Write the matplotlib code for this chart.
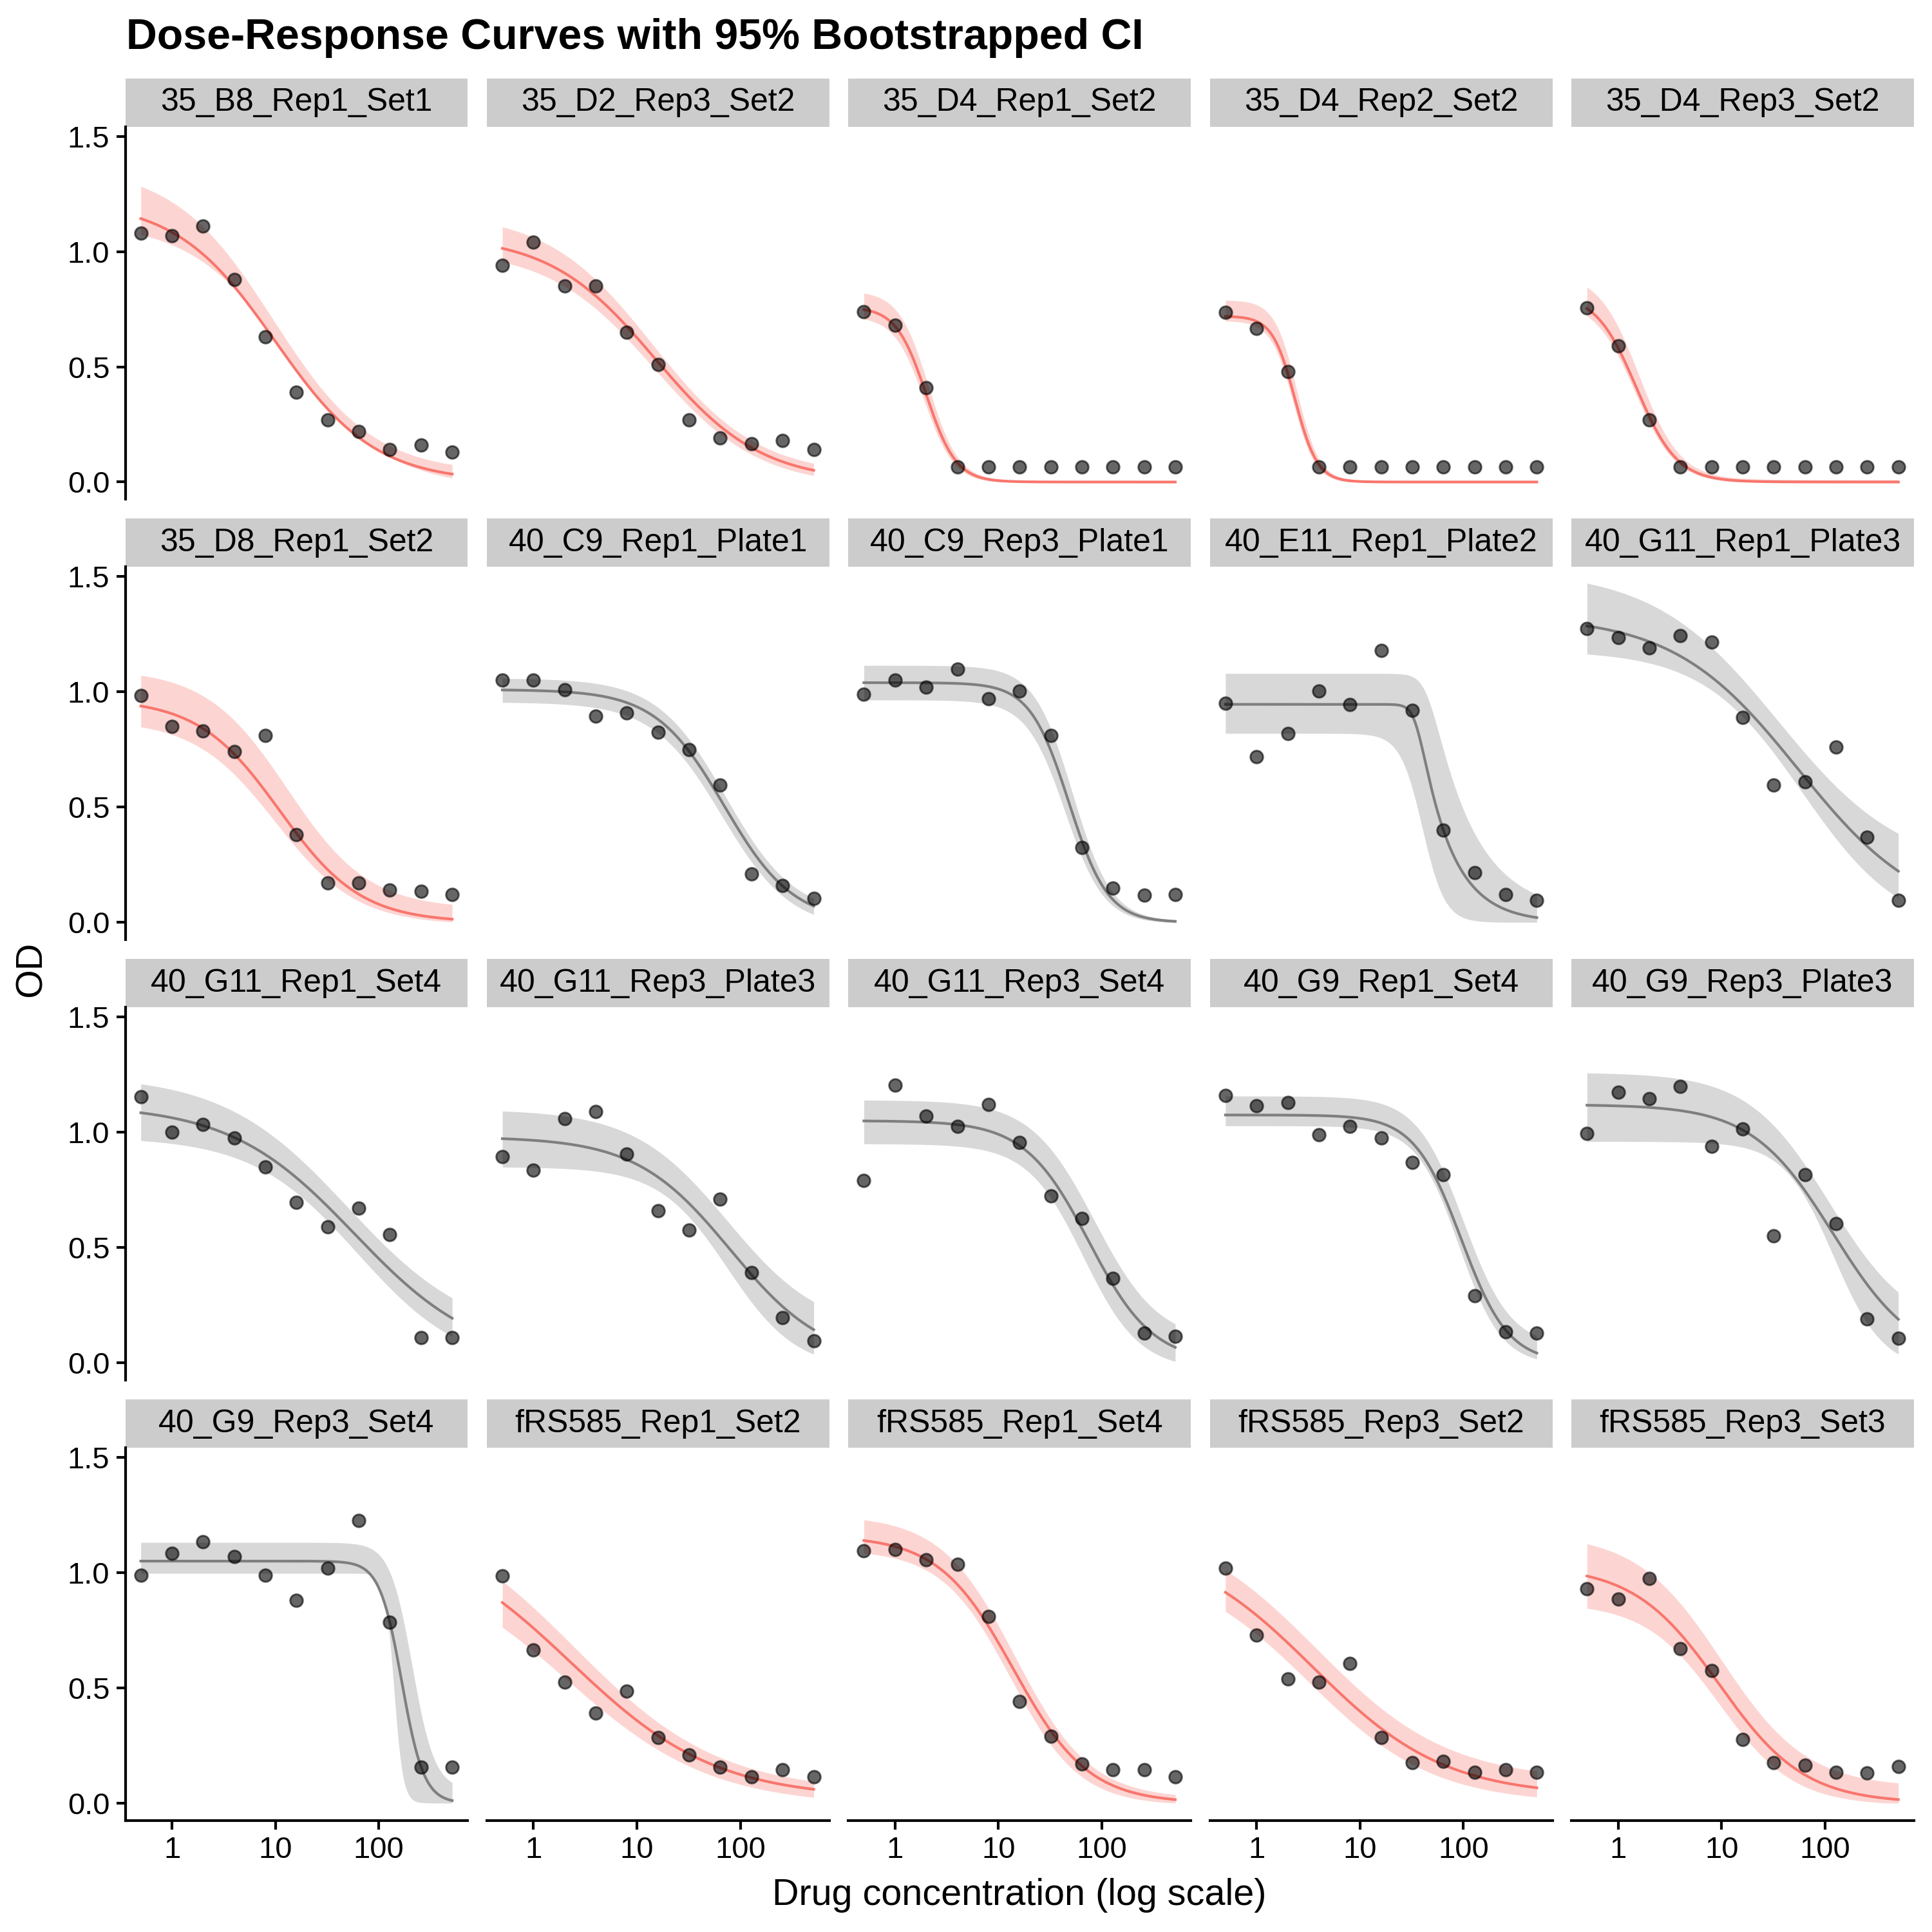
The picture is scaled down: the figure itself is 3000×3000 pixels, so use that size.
import numpy as np
import matplotlib
matplotlib.use("Agg")
import matplotlib.pyplot as plt
from matplotlib.patches import Rectangle

plt.rcParams['font.family'] = ['Liberation Sans', 'DejaVu Sans']

# drug doses used on every plate
doses = [0.5, 1, 2, 4, 8, 16, 32, 64, 128, 256, 512]

panel_names = [
    "35_B8_Rep1_Set1", "35_D2_Rep3_Set2", "35_D4_Rep1_Set2", "35_D4_Rep2_Set2", "35_D4_Rep3_Set2",
    "35_D8_Rep1_Set2", "40_C9_Rep1_Plate1", "40_C9_Rep3_Plate1", "40_E11_Rep1_Plate2", "40_G11_Rep1_Plate3",
    "40_G11_Rep1_Set4", "40_G11_Rep3_Plate3", "40_G11_Rep3_Set4", "40_G9_Rep1_Set4", "40_G9_Rep3_Plate3",
    "40_G9_Rep3_Set4", "fRS585_Rep1_Set2", "fRS585_Rep1_Set4", "fRS585_Rep3_Set2", "fRS585_Rep3_Set3",
]

# True -> red group, False -> grey group
highlight = [True, True, True, True, True,
             True, False, False, False, False,
             False, False, False, False, False,
             False, True, True, True, True]

od_values = [
    [1.08, 1.07, 1.11, 0.88, 0.63, 0.39, 0.27, 0.22, 0.14, 0.16, 0.13],
    [0.94, 1.04, 0.85, 0.85, 0.65, 0.51, 0.27, 0.19, 0.165, 0.18, 0.14],
    [0.74, 0.68, 0.41, 0.065, 0.065, 0.065, 0.065, 0.065, 0.065, 0.065, 0.065],
    [0.735, 0.665, 0.48, 0.065, 0.065, 0.065, 0.065, 0.065, 0.065, 0.065, 0.065],
    [0.755, 0.59, 0.27, 0.065, 0.065, 0.065, 0.065, 0.065, 0.065, 0.065, 0.065],
    [0.985, 0.85, 0.83, 0.74, 0.81, 0.38, 0.17, 0.17, 0.14, 0.135, 0.12],
    [1.05, 1.05, 1.01, 0.895, 0.91, 0.825, 0.75, 0.595, 0.21, 0.16, 0.105],
    [0.99, 1.05, 1.02, 1.10, 0.97, 1.005, 0.81, 0.325, 0.15, 0.117, 0.12],
    [0.95, 0.72, 0.82, 1.005, 0.945, 1.18, 0.92, 0.40, 0.215, 0.12, 0.095],
    [1.275, 1.235, 1.19, 1.245, 1.215, 0.89, 0.595, 0.61, 0.76, 0.37, 0.095],
    [1.155, 1.0, 1.035, 0.975, 0.85, 0.695, 0.59, 0.67, 0.555, 0.11, 0.11],
    [0.895, 0.835, 1.06, 1.09, 0.905, 0.66, 0.575, 0.71, 0.39, 0.195, 0.095],
    [0.79, 1.205, 1.07, 1.025, 1.12, 0.955, 0.725, 0.625, 0.365, 0.13, 0.115],
    [1.16, 1.115, 1.13, 0.99, 1.025, 0.975, 0.87, 0.815, 0.29, 0.135, 0.13],
    [0.995, 1.175, 1.145, 1.20, 0.94, 1.015, 0.55, 0.815, 0.605, 0.19, 0.105],
    [0.99, 1.085, 1.135, 1.07, 0.99, 0.88, 1.02, 1.225, 0.785, 0.155, 0.155],
    [0.985, 0.665, 0.525, 0.39, 0.485, 0.285, 0.21, 0.155, 0.115, 0.145, 0.115],
    [1.095, 1.10, 1.055, 1.035, 0.81, 0.44, 0.29, 0.17, 0.145, 0.145, 0.115],
    [1.02, 0.73, 0.54, 0.525, 0.605, 0.285, 0.175, 0.18, 0.135, 0.145, 0.135],
    [0.93, 0.885, 0.975, 0.67, 0.575, 0.275, 0.175, 0.165, 0.135, 0.13, 0.16],
]

# log-logistic fits: (top, bottom, ec50, hill, asymmetry)
fit_params = [
    (1.22, 0, 10, 0.9, 1), (1.07, 0, 15, 0.85, 1), (0.76, 0, 2.0, 3.0, 1),
    (0.72, 0, 2.35, 4.0, 1), (0.82, 0, 1.5, 2.2, 1), (0.97, 0, 11, 1.1, 1),
    (1.01, 0, 70, 1.3, 1), (1.04, 0, 48, 2.3, 1), (0.946, 0, 35, 9.5, 0.15),
    (1.33, 0, 55, 0.72, 1), (1.12, 0, 58, 0.72, 1), (0.98, 0, 80, 0.95, 1),
    (1.05, 0, 75, 1.4, 1), (1.075, 0, 95, 1.9, 1), (1.12, 0, 120, 1.1, 1),
    (1.05, 0, 167, 4.06, 1), (1.2, 0.02, 2.3, 0.62, 1), (1.16, 0, 14, 1.2, 1),
    (1.15, 0.03, 3.5, 0.68, 1), (1.03, 0, 9.5, 1.05, 1),
]

# lower / upper edges of the bootstrapped 95% band, same model form
ci_low_params = [
    (1.13, -0.025, 13.5, 0.9, 1), (1.01, -0.02, 14.5, 0.85, 1), (0.72, -0.005, 1.9, 3.0, 1),
    (0.70, -0.005, 2.25, 4.0, 1), (0.79, -0.005, 1.45, 2.2, 1), (0.88, -0.01, 10, 1.1, 1),
    (0.956, -0.03, 66, 1.3, 1), (0.965, -0.005, 44, 2.3, 1), (0.82, 0, 40, 4, 1),
    (1.18, -0.05, 60, 0.9, 1), (0.98, -0.03, 62, 0.85, 1), (0.85, -0.03, 75, 1.3, 1),
    (0.95, -0.03, 66, 1.6, 1), (1.028, -0.01, 90, 2.1, 1), (0.96, -0.03, 120, 1.8, 1),
    (0.997, 0, 140, 10, 1), (1.08, -0.01, 2.1, 0.62, 1), (1.10, -0.01, 13, 1.3, 1),
    (1.05, 0.0, 3.2, 0.72, 1), (0.87, -0.01, 9.5, 1.2, 1),
]
ci_high_params = [
    (1.37, 0.04, 9.5, 0.9, 1), (1.17, 0.03, 14, 0.85, 1), (0.83, 0.005, 2.1, 3.0, 1),
    (0.79, 0.005, 2.45, 4.0, 1), (0.91, 0.01, 1.6, 2.2, 1), (1.10, 0.06, 13, 1.1, 1),
    (1.06, 0.03, 72, 1.3, 1), (1.115, 0.005, 52, 2.3, 1), (1.08, 0.04, 45, 7, 0.15),
    (1.53, 0.22, 35, 0.72, 1), (1.25, 0.10, 50, 0.72, 1), (1.10, 0.13, 75, 0.95, 1),
    (1.14, 0.09, 85, 1.4, 1), (1.157, 0.07, 100, 1.9, 1), (1.26, 0.13, 110, 1.1, 1),
    (1.131, 0.06, 210, 4.0, 1), (1.3, 0.05, 2.5, 0.62, 1), (1.25, 0.02, 14.5, 1.2, 1),
    (1.24, 0.10, 3.8, 0.68, 1), (1.17, 0.07, 10, 1.05, 1),
]

y_ticks = [0.0, 0.5, 1.0, 1.5]
x_ticks = [1, 10, 100]

RED = "#F8766D"
GREY = "#7F7F7F"


def loglogistic(x, p):
    top, bottom, ec50, hill, asym = p
    return bottom + (top - bottom) / (1 + (x / ec50) ** hill) ** asym


W = H = 3000.0
fig = plt.figure(figsize=(10, 10), dpi=300)

col_left = [194.5 + 561.4 * i for i in range(5)]
panel_w = 531.8
row_top = [196.6 + 683.8 * i for i in range(4)]
panel_h = 578.7
strip_h = 75.0

xs = np.geomspace(doses[0], doses[-1], 300)

for i, name in enumerate(panel_names):
    r, c = divmod(i, 5)
    ax = fig.add_axes([col_left[c] / W, 1 - (row_top[r] + panel_h) / H, panel_w / W, panel_h / H])
    col = RED if highlight[i] else GREY

    fit = loglogistic(xs, fit_params[i])
    lo = np.minimum(loglogistic(xs, ci_low_params[i]), fit)
    hi = np.maximum(loglogistic(xs, ci_high_params[i]), fit)
    lo = np.clip(lo, 0, None)

    ax.fill_between(xs, lo, hi, color=col, alpha=0.3, linewidth=0, zorder=1)
    ax.plot(xs, fit, color=col, lw=1.0, zorder=2)
    ax.scatter(doses, od_values[i], s=22, color="black", alpha=0.6, linewidths=0.7,
               edgecolors="black", zorder=3)

    ax.set_xscale("log")
    ax.set_xlim(0.5 / np.sqrt(2), 512 * np.sqrt(2))
    ax.set_ylim(-0.075, 1.542)
    ax.set_xticks(x_ticks)
    ax.set_xticklabels([str(t) for t in x_ticks])
    ax.xaxis.set_minor_locator(matplotlib.ticker.NullLocator())
    ax.set_yticks(y_ticks)
    ax.set_yticklabels([f"{t:.1f}" for t in y_ticks])

    for s in ["top", "right"]:
        ax.spines[s].set_visible(False)
    ax.spines["left"].set_linewidth(1.0)
    ax.spines["bottom"].set_linewidth(1.0)
    ax.tick_params(length=3.3, width=1.0, labelsize=11.3, colors="black", pad=2.5)

    if c != 0:
        ax.spines["left"].set_visible(False)
        ax.tick_params(axis="y", left=False, labelleft=False)
    if r != 3:
        ax.spines["bottom"].set_visible(False)
        ax.tick_params(axis="x", bottom=False, labelbottom=False)

    # facet strip
    sh = strip_h / panel_h
    ax.add_patch(Rectangle((0, 1), 1, sh, transform=ax.transAxes, facecolor="#CCCCCC",
                           edgecolor="none", clip_on=False, zorder=0))
    ax.text(0.5, 1 + sh / 2, name, transform=ax.transAxes, ha="center", va="center",
            fontsize=12, color="black")

fig.text(196 / W, 1 - 76.5 / H, "Dose-Response Curves with 95% Bootstrapped CI",
         fontsize=15.9, fontweight="bold", ha="left", va="baseline")
fig.text(1583 / W, 1 - 2958 / H, "Drug concentration (log scale)", fontsize=13.8,
         ha="center", va="baseline")
fig.text(76 / W, 1 - 1505 / H, "OD", fontsize=13.8, rotation=90, ha="right", va="center")

fig.savefig("out.png", dpi=300)
